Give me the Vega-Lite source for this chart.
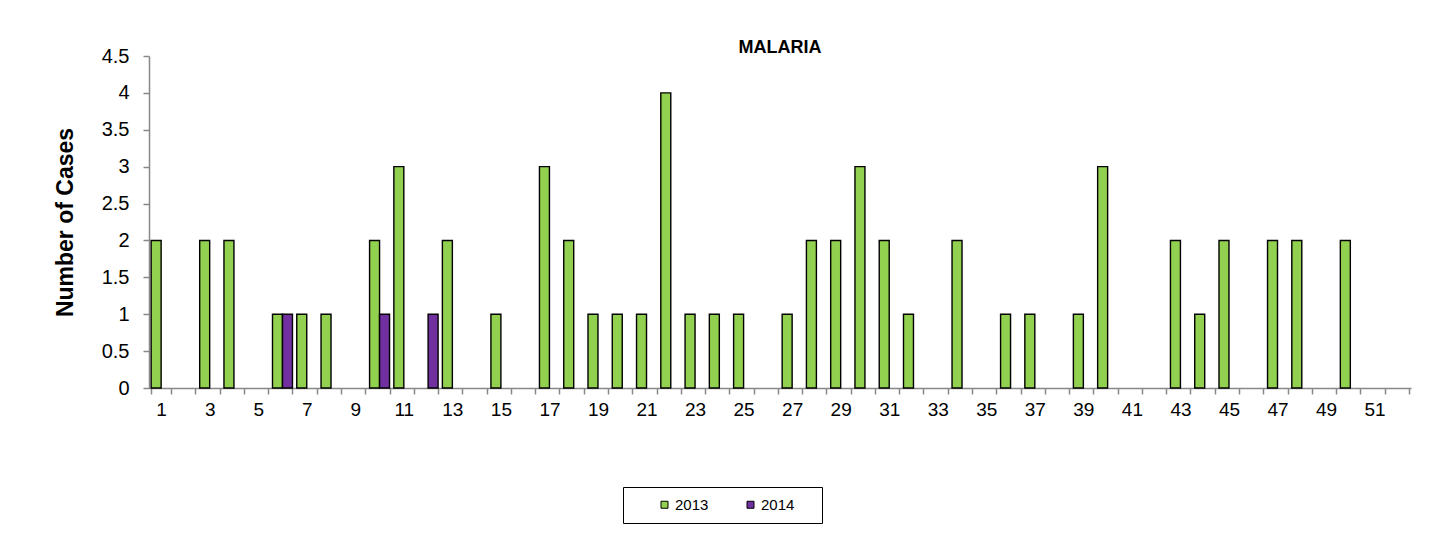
{
  "$schema": "https://vega.github.io/schema/vega-lite/v6.json",
  "autosize": {"type": "none"},
  "width": 1262,
  "height": 332,
  "padding": {"left": 149, "top": 56, "right": 39, "bottom": 145},
  "background": "white",
  "title": {
    "text": "MALARIA",
    "font": "Liberation Sans",
    "fontSize": 18,
    "fontWeight": "bold",
    "color": "black",
    "anchor": "middle",
    "frame": "group",
    "offset": -11
  },
  "data": {
    "values": [
      {"week": 1, "year": "2013", "cases": 2},
      {"week": 3, "year": "2013", "cases": 2},
      {"week": 4, "year": "2013", "cases": 2},
      {"week": 6, "year": "2013", "cases": 1},
      {"week": 6, "year": "2014", "cases": 1},
      {"week": 7, "year": "2013", "cases": 1},
      {"week": 8, "year": "2013", "cases": 1},
      {"week": 10, "year": "2013", "cases": 2},
      {"week": 10, "year": "2014", "cases": 1},
      {"week": 11, "year": "2013", "cases": 3},
      {"week": 12, "year": "2014", "cases": 1},
      {"week": 13, "year": "2013", "cases": 2},
      {"week": 15, "year": "2013", "cases": 1},
      {"week": 17, "year": "2013", "cases": 3},
      {"week": 18, "year": "2013", "cases": 2},
      {"week": 19, "year": "2013", "cases": 1},
      {"week": 20, "year": "2013", "cases": 1},
      {"week": 21, "year": "2013", "cases": 1},
      {"week": 22, "year": "2013", "cases": 4},
      {"week": 23, "year": "2013", "cases": 1},
      {"week": 24, "year": "2013", "cases": 1},
      {"week": 25, "year": "2013", "cases": 1},
      {"week": 27, "year": "2013", "cases": 1},
      {"week": 28, "year": "2013", "cases": 2},
      {"week": 29, "year": "2013", "cases": 2},
      {"week": 30, "year": "2013", "cases": 3},
      {"week": 31, "year": "2013", "cases": 2},
      {"week": 32, "year": "2013", "cases": 1},
      {"week": 34, "year": "2013", "cases": 2},
      {"week": 36, "year": "2013", "cases": 1},
      {"week": 37, "year": "2013", "cases": 1},
      {"week": 39, "year": "2013", "cases": 1},
      {"week": 40, "year": "2013", "cases": 3},
      {"week": 43, "year": "2013", "cases": 2},
      {"week": 44, "year": "2013", "cases": 1},
      {"week": 45, "year": "2013", "cases": 2},
      {"week": 47, "year": "2013", "cases": 2},
      {"week": 48, "year": "2013", "cases": 2},
      {"week": 50, "year": "2013", "cases": 2}
    ]
  },
  "mark": {"type": "bar", "stroke": "black", "strokeWidth": 1.4},
  "encoding": {
    "x": {
      "field": "week",
      "type": "ordinal",
      "scale": {
        "domain": [1,2,3,4,5,6,7,8,9,10,11,12,13,14,15,16,17,18,19,20,21,22,23,24,25,26,27,28,29,30,31,32,33,34,35,36,37,38,39,40,41,42,43,44,45,46,47,48,49,50,51,52],
        "paddingInner": 0.177,
        "paddingOuter": 0.0885
      },
      "axis": {
        "title": null,
        "labelAngle": 0,
        "labelExpr": "datum.value % 2 === 1 ? datum.label : ''",
        "labelOverlap": false,
        "labelFont": "Liberation Sans",
        "labelFontSize": 19,
        "labelColor": "black",
        "labelPadding": 6,
        "tickBand": "extent",
        "tickSize": 6,
        "tickColor": "#888888",
        "domainColor": "#888888",
        "domainWidth": 1.5,
        "tickWidth": 1.5
      }
    },
    "xOffset": {"field": "year", "type": "nominal", "scale": {"domain": ["2013", "2014"], "paddingInner": 0, "paddingOuter": 0}},
    "y": {
      "field": "cases",
      "type": "quantitative",
      "scale": {"domain": [0, 4.5], "nice": false},
      "axis": {
        "title": "Number of Cases",
        "titleFont": "Liberation Sans",
        "titleFontSize": 23,
        "titleFontWeight": "bold",
        "titleColor": "black",
        "titlePadding": 24,
        "values": [0, 0.5, 1, 1.5, 2, 2.5, 3, 3.5, 4, 4.5],
        "format": "~g",
        "grid": false,
        "labelFont": "Liberation Sans",
        "labelFontSize": 20,
        "labelColor": "black",
        "labelPadding": 14,
        "tickSize": 6,
        "tickColor": "#888888",
        "domainColor": "#888888",
        "domainWidth": 1.5,
        "tickWidth": 1.5
      }
    },
    "color": {
      "field": "year",
      "type": "nominal",
      "scale": {"domain": ["2013", "2014"], "range": ["#92D050", "#7030A0"]},
      "legend": {
        "title": " ",
        "titleOrient": "right",
        "titlePadding": 18,
        "orient": "none",
        "legendX": 474,
        "legendY": 431,
        "direction": "horizontal",
        "symbolType": "square",
        "symbolSize": 49,
        "symbolStrokeColor": "black",
        "symbolStrokeWidth": 1,
        "symbolOffset": 24,
        "labelFont": "Liberation Sans",
        "labelFontSize": 15,
        "labelColor": "black",
        "labelOffset": 3,
        "columnPadding": 10,
        "padding": 10,
        "strokeColor": "black"
      }
    }
  },
  "config": {"view": {"stroke": null}}
}
